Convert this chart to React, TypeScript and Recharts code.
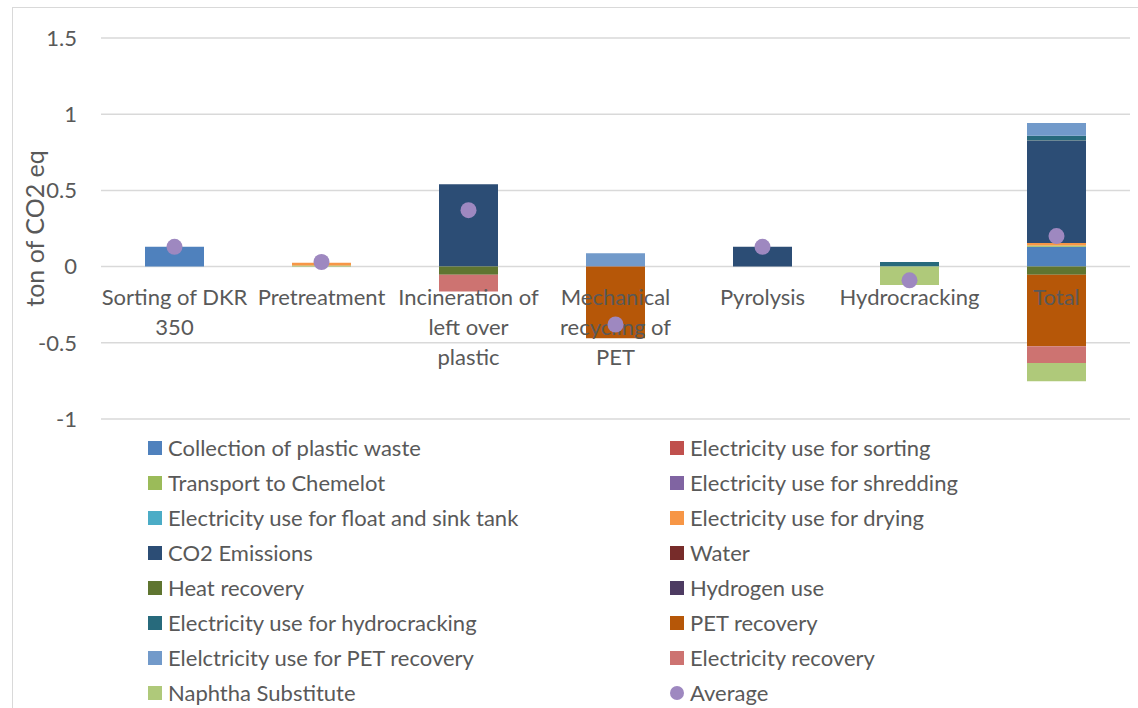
import React from "react";
import { ComposedChart, Bar, Scatter, XAxis, YAxis, CartesianGrid } from "recharts";

const FONT = "Lato, 'Open Sans', sans-serif";
const TEXT_COLOR = "#595959";

const categories = [
  "Sorting of DKR 350",
  "Pretreatment",
  "Incineration of left over plastic",
  "Mechanical recycling of PET",
  "Pyrolysis",
  "Hydrocracking",
  "Total",
];

// category labels as they wrap under the zero line
const categoryLabelLines = [
  ["Sorting of DKR", "350"],
  ["Pretreatment"],
  ["Incineration of", "left over", "plastic"],
  ["Mechanical", "recycling of", "PET"],
  ["Pyrolysis"],
  ["Hydrocracking"],
  ["Total"],
];

// ton CO2 eq per process step
const collection = [0.13, 0, 0, 0, 0, 0, 0.13];
const elecSorting = [0, 0, 0, 0, 0, 0, 0];
const transport = [0, 0.008, 0, 0, 0, 0, 0.008];
const elecShredding = [0, 0, 0, 0, 0, 0, 0];
const elecFloatSink = [0, 0, 0, 0, 0, 0, 0];
const elecDrying = [0, 0.017, 0, 0, 0, 0, 0.017];
const co2Emissions = [0, 0, 0.54, 0, 0.13, 0, 0.67];
const water = [0, 0, 0, 0.003, 0, 0, 0.003];
const heatRecovery = [0, 0, -0.053, 0, 0, 0, -0.053];
const hydrogenUse = [0, 0, 0, 0, 0, 0, 0];
const elecHydrocracking = [0, 0, 0, 0, 0, 0.03, 0.03];
const petRecovery = [0, 0, 0, -0.47, 0, 0, -0.47];
const elecPetRecovery = [0, 0, 0, 0.085, 0, 0, 0.085];
const elecRecovery = [0, 0, -0.11, 0, 0, 0, -0.11];
const naphthaSubstitute = [0, 0, 0, 0, 0, -0.12, -0.12];
const average = [0.13, 0.03, 0.37, -0.38, 0.13, -0.09, 0.2];

const yTicks = [-1, -0.5, 0, 0.5, 1, 1.5];

const series = [
  { key: "collection", name: "Collection of plastic waste", color: "#4F81BD", values: collection },
  { key: "elecSorting", name: "Electricity use for sorting", color: "#C0504D", values: elecSorting },
  { key: "transport", name: "Transport to Chemelot", color: "#9BBB59", values: transport },
  { key: "elecShredding", name: "Electricity use for shredding", color: "#8064A2", values: elecShredding },
  { key: "elecFloatSink", name: "Electricity use for float and sink tank", color: "#4BACC6", values: elecFloatSink },
  { key: "elecDrying", name: "Electricity use for drying", color: "#F79646", values: elecDrying },
  { key: "co2Emissions", name: "CO2 Emissions", color: "#2C4D75", values: co2Emissions },
  { key: "water", name: "Water", color: "#772C2A", values: water },
  { key: "heatRecovery", name: "Heat recovery", color: "#5F7530", values: heatRecovery },
  { key: "hydrogenUse", name: "Hydrogen use", color: "#4D3B62", values: hydrogenUse },
  { key: "elecHydrocracking", name: "Electricity use for hydrocracking", color: "#276A7C", values: elecHydrocracking },
  { key: "petRecovery", name: "PET recovery", color: "#B65708", values: petRecovery },
  { key: "elecPetRecovery", name: "Elelctricity use for PET recovery", color: "#729ACA", values: elecPetRecovery },
  { key: "elecRecovery", name: "Electricity recovery", color: "#CD7371", values: elecRecovery },
  { key: "naphthaSubstitute", name: "Naphtha Substitute", color: "#AFC97A", values: naphthaSubstitute },
];

const AVERAGE_COLOR = "#9E88C0";

const rows = categories.map((name, i) => {
  const row: Record<string, any> = { name, lines: categoryLabelLines[i], axisLevel: 0, average: average[i] };
  series.forEach((s) => {
    row[s.key] = s.values[i];
  });
  return row;
});

// category labels sit on the zero line, drawn above the bars
const CategoryLabel = (props: any) => {
  const { cx, cy, payload } = props;
  const lines: string[] = payload.lines;
  return (
    <text x={cx} y={cy + 38} textAnchor="middle" fill={TEXT_COLOR} fontSize={22} fontFamily={FONT}>
      {lines.map((l, i) => (
        <tspan key={i} x={cx} dy={i === 0 ? 0 : 30}>
          {l}
        </tspan>
      ))}
    </text>
  );
};

const AverageDot = (props: any) => <circle cx={props.cx} cy={props.cy} r={8} fill={AVERAGE_COLOR} />;

function LegendBlock() {
  const items = [
    ...series.map((s) => ({ name: s.name, color: s.color, round: false })),
    { name: "Average", color: AVERAGE_COLOR, round: true },
  ];
  return (
    <div
      style={{
        position: "absolute",
        left: 148,
        top: 430,
        display: "grid",
        gridTemplateColumns: "522px 420px",
        gridAutoRows: "35px",
        fontFamily: FONT,
        fontSize: 22,
        lineHeight: "35px",
        color: TEXT_COLOR,
      }}
    >
      {items.map((it) => (
        <div key={it.name} style={{ display: "flex", alignItems: "center", whiteSpace: "nowrap" }}>
          <span
            style={{
              width: 14,
              height: 14,
              background: it.color,
              borderRadius: it.round ? "50%" : 0,
              marginRight: 6,
              flex: "none",
            }}
          />
          {it.name}
        </div>
      ))}
    </div>
  );
}

export default function App() {
  return (
    <div style={{ position: "fixed", left: 0, top: 0, width: 1138, height: 708, overflow: "hidden", background: "#fff" }}>
      <div style={{ position: "absolute", left: 12, top: 7, width: 1200, height: 800, border: "1.5px solid #d9d9d9" }} />
      <div style={{ position: "absolute", left: 0, top: 0 }}>
        <ComposedChart
          width={1138}
          height={708}
          data={rows}
          stackOffset="sign"
          barSize={59}
          margin={{ top: 38, right: 8, bottom: 289, left: 0 }}
        >
          <CartesianGrid vertical={false} stroke="#d9d9d9" strokeWidth={1.5} />
          <XAxis dataKey="name" hide />
          <YAxis
            domain={[-1, 1.5]}
            ticks={yTicks}
            width={101}
            axisLine={false}
            tickLine={false}
            tickSize={0}
            tickMargin={24}
            tick={{ fill: TEXT_COLOR, fontSize: 22, fontFamily: FONT }}
            label={{
              value: "ton of CO2 eq",
              angle: -90,
              position: "center",
              dx: -15,
              fill: TEXT_COLOR,
              fontSize: 25,
              fontFamily: FONT,
            }}
          />
          {series.map((s) => (
            <Bar key={s.key} dataKey={s.key} name={s.name} stackId="a" fill={s.color} isAnimationActive={false} />
          ))}
          <Scatter dataKey="axisLevel" legendType="none" shape={CategoryLabel} isAnimationActive={false} />
          <Scatter dataKey="average" name="Average" fill={AVERAGE_COLOR} shape={AverageDot} isAnimationActive={false} />
        </ComposedChart>
      </div>
      <LegendBlock />
    </div>
  );
}
